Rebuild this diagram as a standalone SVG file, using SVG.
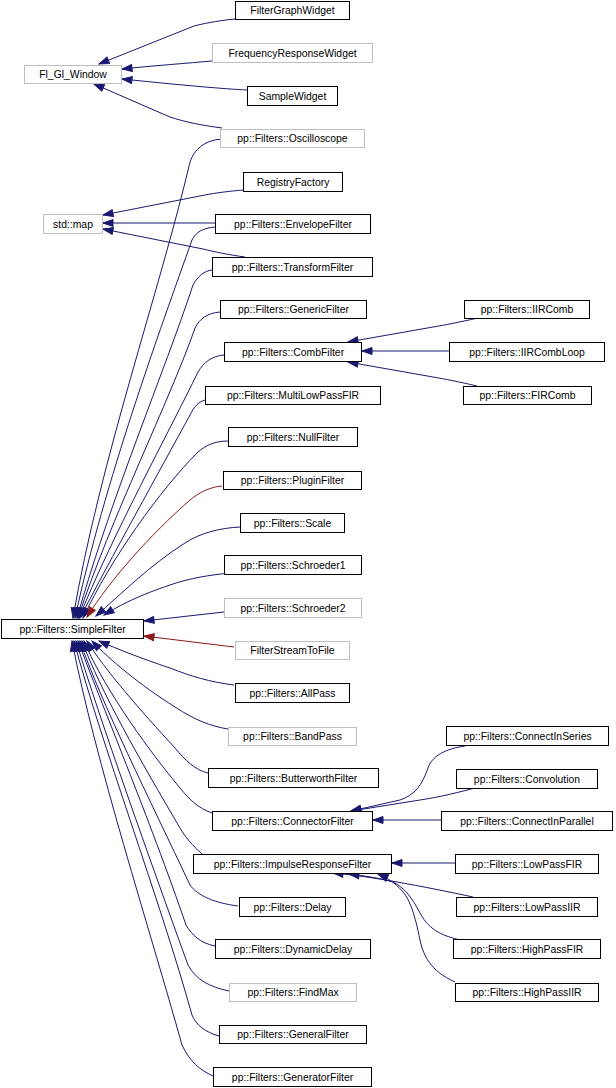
<svg xmlns="http://www.w3.org/2000/svg" width="616" height="1088" viewBox="0 0 616 1088">
<style>
.n rect{fill:#fff;stroke:#000;stroke-width:1}
.g rect{stroke:#bfbfbf}
text{font-family:"Liberation Sans",Arial,sans-serif;font-size:10.4px;text-anchor:middle;fill:#000}
.e path{fill:none;stroke:#191970;stroke-width:1;marker-end:url(#ab)}
.e path.r{stroke:#8b1a1a;marker-end:url(#ar)}
</style>
<defs>
<marker id="ab" markerUnits="userSpaceOnUse" markerWidth="12" markerHeight="9" viewBox="0 0 12 9" refX="11" refY="4.5" orient="auto"><path d="M1,1 L11,4.5 L1,8 Z" fill="#191970" stroke="#191970"/></marker>
<marker id="ar" markerUnits="userSpaceOnUse" markerWidth="12" markerHeight="9" viewBox="0 0 12 9" refX="11" refY="4.5" orient="auto"><path d="M1,1 L11,4.5 L1,8 Z" fill="#8b1a1a" stroke="#8b1a1a"/></marker>
</defs>
<rect width="616" height="1088" fill="#fff"/>
<g id="edges" class="e">
<path d="M235,19 C215,21 202,24 194,26 L99,64"/>
<path d="M212,61 C190,63 150,66 122,69"/>
<path d="M247,90 C225,89 180,85 122,79"/>
<path d="M222,128 C200,125 185,122 170,117 L94,84"/>
<path d="M244,190 C230,191 215,193 205,195 L103,215"/>
<path d="M215,223 L103,223"/>
<path d="M245,257 C230,255 215,252 203,249 L103,229"/>
<path d="M478,318 C460,322 445,325 433,327 L348,342"/>
<path d="M449,351 L362,351"/>
<path d="M477,386 C460,382 445,379 433,377 L348,362"/>
<path d="M465,746 C445,749 432,756 428,768 C422,785 415,795 400,800 L351,811"/>
<path d="M475,788 C460,792 440,797 420,800 L351,811"/>
<path d="M441,820 L373,820"/>
<path d="M455,863 L392,863"/>
<path d="M473,897 C450,892 420,886 397,882 C375,878 355,875 333,873"/>
<path d="M460,940 C445,936 430,932 420,913 C412,898 405,888 393,882 C380,878 365,876 349,874"/>
<path d="M455,982 C440,975 425,965 420,940 C415,915 410,900 403,892 C398,886 392,880 378,874"/>
<path d="M222,139 C204,140 194,150 190,162 C160,290 100,460 73,618"/>
<path d="M215,227 C203,228 196,232 192,240 C160,330 105,480 75,618"/>
<path d="M212,270 C204,271 198,276 193,285 C165,370 110,500 77,618"/>
<path d="M220,312 C208,313 200,318 195,328 C170,400 110,520 78,618"/>
<path d="M224,355 C212,356 204,362 198,372 C170,430 110,540 79,618"/>
<path d="M205,400 C198,402 194,407 190,415 C160,470 110,560 80,618"/>
<path d="M228,441 C214,441 205,446 198,452 C160,490 110,560 83,618"/>
<path class="r" d="M222,486 C210,487 200,492 190,500 C150,535 110,580 87,617"/>
<path d="M240,527 C220,528 200,533 185,543 C150,565 120,595 96,616"/>
<path d="M230,573 C210,575 190,578 170,585 C140,595 120,605 104,615"/>
<path d="M224,612 L144,621"/>
<path class="r" d="M234,647 L144,636"/>
<path d="M234,685 C210,682 190,676 170,668 C140,658 120,650 99,641"/>
<path d="M228,729 C210,726 195,720 175,707 C140,685 110,660 92,641"/>
<path d="M208,773 C195,770 185,760 175,748 C140,710 105,670 87,641"/>
<path d="M212,813 C198,808 190,800 180,788 C140,740 100,680 84,641"/>
<path d="M202,854 C192,845 186,838 180,828 C140,760 100,690 82,641"/>
<path d="M238,906 C215,903 198,896 190,885 C150,800 100,700 80,641"/>
<path d="M215,946 C200,943 192,935 186,925 C150,820 100,700 78,641"/>
<path d="M229,991 C210,987 196,980 188,965 C150,860 100,720 76,641"/>
<path d="M219,1036 C205,1032 196,1025 192,1015 C160,900 100,740 74,641"/>
<path d="M213,1076 C200,1070 190,1062 182,1045 C150,930 95,760 72,641"/>
</g>
<g id="FilterGraphWidget" class="n"><rect x="235.5" y="1.5" width="114" height="18"/><text x="292.5" y="14">FilterGraphWidget</text></g>
<g id="FrequencyResponseWidget" class="n g"><rect x="212.5" y="43.5" width="160" height="19"/><text x="292.5" y="56.5">FrequencyResponseWidget</text></g>
<g id="Fl_Gl_Window" class="n g"><rect x="24.5" y="65.5" width="97" height="18"/><text x="73" y="78">Fl_Gl_Window</text></g>
<g id="SampleWidget" class="n"><rect x="247.5" y="86.5" width="90" height="19"/><text x="292.5" y="99.5">SampleWidget</text></g>
<g id="Oscilloscope" class="n g"><rect x="220.5" y="129.5" width="144" height="18"/><text x="292.5" y="142">pp::Filters::Oscilloscope</text></g>
<g id="RegistryFactory" class="n"><rect x="243.5" y="172.5" width="99" height="19"/><text x="293" y="185.5">RegistryFactory</text></g>
<g id="std_map" class="n g"><rect x="43.5" y="214.5" width="59" height="19"/><text x="73" y="227.5">std::map</text></g>
<g id="EnvelopeFilter" class="n"><rect x="215.5" y="214.5" width="155" height="19"/><text x="293" y="227.5">pp::Filters::EnvelopeFilter</text></g>
<g id="TransformFilter" class="n"><rect x="212.5" y="257.5" width="160" height="19"/><text x="292.5" y="270.5">pp::Filters::TransformFilter</text></g>
<g id="GenericFilter" class="n"><rect x="220.5" y="300.5" width="146" height="18"/><text x="293.5" y="313">pp::Filters::GenericFilter</text></g>
<g id="CombFilter" class="n"><rect x="224.5" y="342.5" width="137" height="19"/><text x="293" y="355.5">pp::Filters::CombFilter</text></g>
<g id="IIRComb" class="n"><rect x="464.5" y="300.5" width="125" height="18"/><text x="527" y="313">pp::Filters::IIRComb</text></g>
<g id="IIRCombLoop" class="n"><rect x="449.5" y="342.5" width="155" height="19"/><text x="527" y="355.5">pp::Filters::IIRCombLoop</text></g>
<g id="FIRComb" class="n"><rect x="463.5" y="386.5" width="128" height="18"/><text x="527.5" y="399">pp::Filters::FIRComb</text></g>
<g id="MultiLowPassFIR" class="n"><rect x="205.5" y="386.5" width="175" height="18"/><text x="293" y="399">pp::Filters::MultiLowPassFIR</text></g>
<g id="NullFilter" class="n"><rect x="228.5" y="427.5" width="129" height="19"/><text x="293" y="440.5">pp::Filters::NullFilter</text></g>
<g id="PluginFilter" class="n"><rect x="223.5" y="471.5" width="138" height="18"/><text x="292.5" y="484">pp::Filters::PluginFilter</text></g>
<g id="Scale" class="n"><rect x="240.5" y="513.5" width="104" height="19"/><text x="292.5" y="526.5">pp::Filters::Scale</text></g>
<g id="Schroeder1" class="n"><rect x="224.5" y="555.5" width="137" height="19"/><text x="293" y="568.5">pp::Filters::Schroeder1</text></g>
<g id="Schroeder2" class="n g"><rect x="224.5" y="598.5" width="137" height="19"/><text x="293" y="611.5">pp::Filters::Schroeder2</text></g>
<g id="SimpleFilter" class="n"><rect x="1.5" y="619.5" width="142" height="19"/><text x="72.5" y="632.5">pp::Filters::SimpleFilter</text></g>
<g id="FilterStreamToFile" class="n g"><rect x="235.5" y="641.5" width="114" height="18"/><text x="292.5" y="654">FilterStreamToFile</text></g>
<g id="AllPass" class="n"><rect x="235.5" y="683.5" width="114" height="19"/><text x="292.5" y="696.5">pp::Filters::AllPass</text></g>
<g id="BandPass" class="n g"><rect x="228.5" y="727.5" width="128" height="18"/><text x="292.5" y="740">pp::Filters::BandPass</text></g>
<g id="ButterworthFilter" class="n"><rect x="208.5" y="768.5" width="170" height="19"/><text x="293.5" y="781.5">pp::Filters::ButterworthFilter</text></g>
<g id="ConnectInSeries" class="n"><rect x="446.5" y="726.5" width="162" height="19"/><text x="527.5" y="739.5">pp::Filters::ConnectInSeries</text></g>
<g id="Convolution" class="n"><rect x="456.5" y="769.5" width="141" height="19"/><text x="527" y="782.5">pp::Filters::Convolution</text></g>
<g id="ConnectorFilter" class="n"><rect x="212.5" y="811.5" width="160" height="19"/><text x="292.5" y="824.5">pp::Filters::ConnectorFilter</text></g>
<g id="ConnectInParallel" class="n"><rect x="441.5" y="811.5" width="171" height="19"/><text x="527" y="824.5">pp::Filters::ConnectInParallel</text></g>
<g id="ImpulseResponseFilter" class="n"><rect x="193.5" y="854.5" width="198" height="19"/><text x="292.5" y="867.5">pp::Filters::ImpulseResponseFilter</text></g>
<g id="LowPassFIR" class="n"><rect x="455.5" y="854.5" width="143" height="19"/><text x="527" y="867.5">pp::Filters::LowPassFIR</text></g>
<g id="Delay" class="n"><rect x="239.5" y="897.5" width="106" height="19"/><text x="292.5" y="910.5">pp::Filters::Delay</text></g>
<g id="LowPassIIR" class="n"><rect x="456.5" y="897.5" width="141" height="19"/><text x="527" y="910.5">pp::Filters::LowPassIIR</text></g>
<g id="DynamicDelay" class="n"><rect x="215.5" y="939.5" width="155" height="19"/><text x="293" y="952.5">pp::Filters::DynamicDelay</text></g>
<g id="HighPassFIR" class="n"><rect x="453.5" y="939.5" width="147" height="19"/><text x="527" y="952.5">pp::Filters::HighPassFIR</text></g>
<g id="FindMax" class="n g"><rect x="229.5" y="983.5" width="127" height="18"/><text x="293" y="996">pp::Filters::FindMax</text></g>
<g id="HighPassIIR" class="n"><rect x="455.5" y="983.5" width="143" height="18"/><text x="527" y="996">pp::Filters::HighPassIIR</text></g>
<g id="GeneralFilter" class="n"><rect x="219.5" y="1025.5" width="147" height="18"/><text x="293" y="1038">pp::Filters::GeneralFilter</text></g>
<g id="GeneratorFilter" class="n"><rect x="213.5" y="1067.5" width="158" height="19"/><text x="292.5" y="1080.5">pp::Filters::GeneratorFilter</text></g>
</svg>
